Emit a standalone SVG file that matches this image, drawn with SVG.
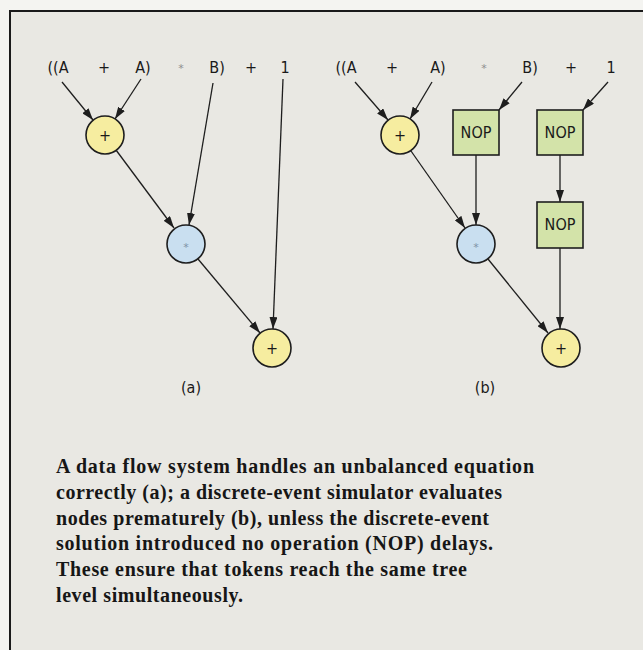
<svg xmlns="http://www.w3.org/2000/svg" width="643" height="650" viewBox="0 0 643 650">
<defs>
<marker id="ah" viewBox="0 0 12 8" refX="12" refY="4" markerWidth="12" markerHeight="8" markerUnits="userSpaceOnUse" orient="auto">
<path d="M0,0 L12,4 L0,8 z" fill="#1e1e1e"/>
</marker>
</defs>
<style>
.lbl{font-family:"DejaVu Sans Condensed","Liberation Sans",sans-serif;font-size:16px;fill:#1a1a1a;text-anchor:middle}
.ast{font-family:"DejaVu Sans","Liberation Sans",sans-serif;font-size:11px;fill:#8f8f8f;text-anchor:middle}
.asb{font-family:"DejaVu Sans","Liberation Sans",sans-serif;font-size:11px;fill:#7f93a6;text-anchor:middle}
.yel{fill:#f6eda0;stroke:#1e1e1e;stroke-width:1.6}
.blu{fill:#c9dff0;stroke:#1e1e1e;stroke-width:1.6}
.nop{fill:#d3e3a9;stroke:#1e1e1e;stroke-width:1.6}
.cn line{stroke:#1e1e1e;stroke-width:1.3;marker-end:url(#ah)}
.cap{font-family:"Liberation Serif",serif;font-weight:bold;font-size:20px;fill:#161616}
</style>
<rect x="0" y="0" width="643" height="650" fill="#f4f4f1"/>
<rect x="10" y="11" width="640" height="650" fill="#e9e8e3" stroke="#1a1a1a" stroke-width="2"/>

<g id="expr-a">
<text class="lbl" x="58" y="73">((A</text>
<text class="lbl" x="104" y="73">+</text>
<text class="lbl" x="143" y="73">A)</text>
<text class="ast" x="181" y="72">*</text>
<text class="lbl" x="217" y="73">B)</text>
<text class="lbl" x="251" y="73">+</text>
<text class="lbl" x="285" y="73">1</text>
</g>
<g id="expr-b">
<text class="lbl" x="346" y="73">((A</text>
<text class="lbl" x="392" y="73">+</text>
<text class="lbl" x="438" y="73">A)</text>
<text class="ast" x="484" y="72">*</text>
<text class="lbl" x="530" y="73">B)</text>
<text class="lbl" x="571" y="73">+</text>
<text class="lbl" x="611" y="73">1</text>
</g>

<g class="cn" id="connectors">
<line x1="62" y1="82" x2="93" y2="120"/>
<line x1="141" y1="79" x2="115" y2="119"/>
<line x1="116" y1="150" x2="174" y2="228"/>
<line x1="213" y1="83" x2="189" y2="225"/>
<line x1="283" y1="79" x2="273" y2="329"/>
<line x1="198" y1="259" x2="260" y2="333"/>

<line x1="355" y1="82" x2="388" y2="120"/>
<line x1="432" y1="82" x2="410" y2="119"/>
<line x1="522" y1="82" x2="499" y2="110"/>
<line x1="608" y1="82" x2="583" y2="110"/>
<line x1="476" y1="155" x2="476" y2="225"/>
<line x1="411" y1="151" x2="465" y2="228"/>
<line x1="560" y1="155" x2="560" y2="202"/>
<line x1="560" y1="248" x2="560" y2="329"/>
<line x1="488" y1="259" x2="548" y2="333"/>
</g>

<g id="a-plus1"><circle class="yel" cx="105" cy="135" r="19"/><text class="lbl" x="105" y="141">+</text></g>
<g id="a-mul"><circle class="blu" cx="186" cy="244" r="19"/><text class="asb" x="186" y="251">*</text></g>
<g id="a-plus2"><circle class="yel" cx="272" cy="348" r="19"/><text class="lbl" x="272" y="354">+</text></g>

<g id="b-plus1"><circle class="yel" cx="400" cy="135" r="19"/><text class="lbl" x="400" y="141">+</text></g>
<g id="b-nop1"><rect class="nop" x="453" y="110" width="46" height="45"/><text class="lbl" x="476" y="138">NOP</text></g>
<g id="b-nop2"><rect class="nop" x="537" y="110" width="46" height="45"/><text class="lbl" x="560" y="138">NOP</text></g>
<g id="b-mul"><circle class="blu" cx="476" cy="244" r="19"/><text class="asb" x="476" y="251">*</text></g>
<g id="b-nop3"><rect class="nop" x="537" y="202" width="46" height="46"/><text class="lbl" x="560" y="230">NOP</text></g>
<g id="b-plus2"><circle class="yel" cx="561" cy="348" r="19"/><text class="lbl" x="561" y="354">+</text></g>

<text class="lbl" x="191" y="393">(a)</text>
<text class="lbl" x="485" y="393">(b)</text>

<g id="caption">
<text class="cap" x="56" y="473" textLength="478" lengthAdjust="spacing">A data flow system handles an unbalanced equation</text>
<text class="cap" x="56" y="499" textLength="446" lengthAdjust="spacing">correctly (a); a discrete-event simulator evaluates</text>
<text class="cap" x="56" y="525" textLength="433" lengthAdjust="spacing">nodes prematurely (b), unless the discrete-event</text>
<text class="cap" x="56" y="550" textLength="437" lengthAdjust="spacing">solution introduced no operation (NOP) delays.</text>
<text class="cap" x="56" y="576" textLength="411" lengthAdjust="spacing">These ensure that tokens reach the same tree</text>
<text class="cap" x="56" y="602" textLength="187" lengthAdjust="spacing">level simultaneously.</text>
</g>
</svg>
